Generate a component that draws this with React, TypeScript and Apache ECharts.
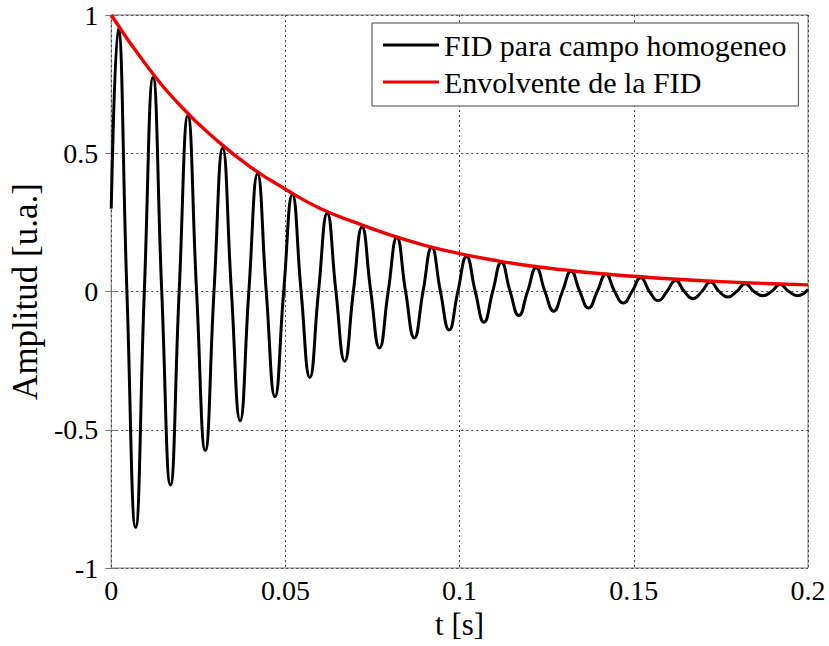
import React, { useEffect, useRef } from "react";
import * as echarts from "echarts";

// FID (free induction decay)
const startValue = 0.3; // value at t = 0
const peakTimes = [0.002, 0.012, 0.022, 0.032, 0.042, 0.052, 0.062, 0.072, 0.082, 0.092, 0.102, 0.112, 0.122, 0.132, 0.142, 0.152, 0.162, 0.172, 0.182, 0.192];
const peakValues = [0.95, 0.774, 0.636, 0.518, 0.426, 0.351, 0.283, 0.233, 0.195, 0.16, 0.127, 0.106, 0.086, 0.073, 0.062, 0.05, 0.04, 0.034, 0.028, 0.025];
const troughTimes = [0.007, 0.017, 0.027, 0.037, 0.047, 0.057, 0.067, 0.077, 0.087, 0.097, 0.107, 0.117, 0.127, 0.137, 0.147, 0.157, 0.167, 0.177, 0.187, 0.197];
const troughValues = [-0.853, -0.7, -0.575, -0.467, -0.381, -0.311, -0.252, -0.204, -0.168, -0.139, -0.111, -0.087, -0.071, -0.06, -0.042, -0.033, -0.026, -0.02, -0.015, -0.015];
const endPoint: [number, number] = [0.2, 0.007];

// Envelope
const envTimes = [0, 0.01, 0.02, 0.03, 0.04, 0.05, 0.06, 0.07, 0.08, 0.09, 0.1, 0.11, 0.12, 0.13, 0.14, 0.15, 0.16, 0.17, 0.18, 0.19, 0.2];
const envValues = [1.0, 0.82, 0.67, 0.55, 0.45, 0.37, 0.3, 0.25, 0.205, 0.167, 0.137, 0.113, 0.093, 0.078, 0.065, 0.055, 0.046, 0.039, 0.033, 0.028, 0.024];

const xTicks = [0, 0.05, 0.1, 0.15, 0.2];
const yTicks = [-1, -0.5, 0, 0.5, 1];

const seriesNames = ["FID para campo homogeneo", "Envolvente de la FID"];
const xName = "t [s]";
const yName = "Amplitud [u.a.]";

function buildFid(): [number, number][] {
  const pts: [number, number][] = [[0, startValue]];
  for (let k = 0; k < peakTimes.length; k++) {
    pts.push([peakTimes[k], peakValues[k]]);
    pts.push([(peakTimes[k] + troughTimes[k]) / 2, 0]);
    pts.push([troughTimes[k], troughValues[k]]);
    if (k + 1 < peakTimes.length) {
      pts.push([(troughTimes[k] + peakTimes[k + 1]) / 2, 0]);
    }
  }
  pts.push(endPoint);
  return pts;
}

const FONT = '"Liberation Serif", "Times New Roman", serif';

export default function App() {
  const ref = useRef<HTMLDivElement>(null);
  useEffect(() => {
    if (!ref.current) return;
    const chart = echarts.init(ref.current, null, { renderer: "svg" });
    const fmt = (v: number) => String(parseFloat(v.toFixed(4)));
    const frame = "#777";
    chart.setOption({
      animation: false,
      backgroundColor: "#fff",
      textStyle: { fontFamily: FONT },
      grid: {
        left: 106,
        right: 21,
        top: 15,
        bottom: 78,
        show: true,
        borderColor: frame,
        borderWidth: 1,
        backgroundColor: "#fff",
      },
      legend: {
        orient: "vertical",
        left: 372,
        top: 23,
        padding: [7, 12, 9, 11],
        itemGap: 7,
        itemWidth: 56,
        itemHeight: 3,
        borderColor: "#444",
        borderWidth: 1,
        backgroundColor: "#fff",
        textStyle: { fontFamily: FONT, fontSize: 30, color: "#000", lineHeight: 30 },
        data: seriesNames.map((n) => ({ name: n, icon: "rect" })),
        itemStyle: { borderWidth: 0 },
      },
      xAxis: [
        {
          type: "value",
          min: xTicks[0],
          max: xTicks[xTicks.length - 1],
          interval: 0.05,
          name: xName,
          nameLocation: "middle",
          nameGap: 36,
          nameTextStyle: { fontFamily: FONT, fontSize: 31, color: "#000" },
          axisLine: { show: false },
          axisTick: { show: true, inside: true, length: 6, lineStyle: { color: frame } },
          axisLabel: { fontFamily: FONT, fontSize: 28, color: "#000", margin: 8, formatter: fmt },
          splitLine: { show: true, lineStyle: { color: "#444", type: [2, 3], width: 1 } },
        },
        {
          type: "value",
          position: "top",
          min: xTicks[0],
          max: xTicks[xTicks.length - 1],
          interval: 0.05,
          axisLine: { show: false },
          axisTick: { show: true, inside: true, length: 6, lineStyle: { color: frame } },
          axisLabel: { show: false },
          splitLine: { show: false },
        },
      ],
      yAxis: [
        {
          type: "value",
          min: yTicks[0],
          max: yTicks[yTicks.length - 1],
          interval: 0.5,
          name: yName,
          nameLocation: "middle",
          nameGap: 64,
          nameTextStyle: { fontFamily: FONT, fontSize: 35, color: "#000" },
          axisLine: { show: false },
          axisTick: { show: true, inside: true, length: 6, lineStyle: { color: frame } },
          axisLabel: { fontFamily: FONT, fontSize: 28, color: "#000", margin: 13, formatter: fmt },
          splitLine: { show: true, lineStyle: { color: "#444", type: [2, 3], width: 1 } },
        },
        {
          type: "value",
          position: "right",
          min: yTicks[0],
          max: yTicks[yTicks.length - 1],
          interval: 0.5,
          axisLine: { show: false },
          axisTick: { show: true, inside: true, length: 6, lineStyle: { color: frame } },
          axisLabel: { show: false },
          splitLine: { show: false },
        },
      ],
      series: [
        {
          name: seriesNames[0],
          type: "line",
          data: buildFid(),
          smooth: 0.5,
          symbol: "none",
          lineStyle: { color: "#000", width: 3 },
          itemStyle: { color: "#000" },
          z: 2,
        },
        {
          name: seriesNames[1],
          type: "line",
          data: envTimes.map((t, i) => [t, envValues[i]]),
          smooth: true,
          symbol: "none",
          lineStyle: { color: "#ee0000", width: 3.4 },
          itemStyle: { color: "#ee0000" },
          z: 3,
        },
      ],
    });
    return () => chart.dispose();
  }, []);
  return (
    <div
      ref={ref}
      style={{ position: "fixed", left: 0, top: 0, width: 829, height: 646, background: "#fff" }}
    />
  );
}
